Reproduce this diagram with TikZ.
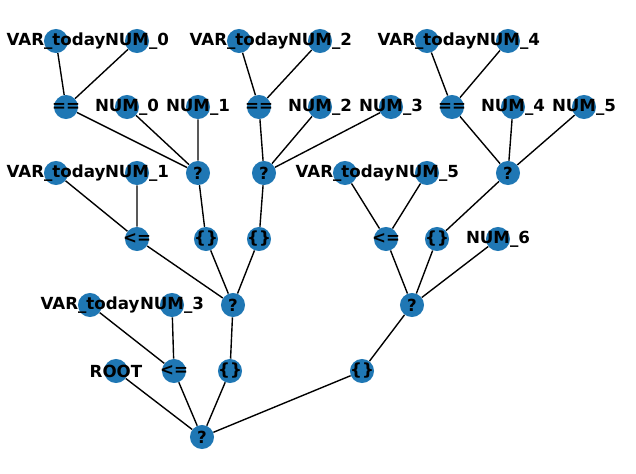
\documentclass[tikz,border=0pt]{standalone}
\usepackage{fontspec}
\setmainfont{DejaVu Sans}
\usetikzlibrary{backgrounds}
\definecolor{nodeblue}{HTML}{1F77B4}
\tikzset{
  vertex/.style={circle,fill=nodeblue,minimum size=17.3pt,inner sep=0pt},
  lbl/.style={font=\fontsize{12pt}{14pt}\selectfont\bfseries,inner sep=0pt,text=black},
  link/.style={line width=1pt,black}
}
\newcommand{\vtx}[3]{\node[vertex,label={[lbl]center:#3}] (#1) at (#2) {};}
\begin{document}
\begin{tikzpicture}[x=0.72pt,y=-0.72pt]
            \useasboundingbox (0,0) rectangle (636,473);
            % top row
            \vtx{ta}{56,41}{VAR\_today}
            \vtx{na0}{137,41}{NUM\_0}
            \vtx{tb}{239,41}{VAR\_today}
            \vtx{nb2}{320,41}{NUM\_2}
            \vtx{tc}{427,41}{VAR\_today}
            \vtx{nc4}{508,41}{NUM\_4}

            \vtx{eqa}{66,107}{==}
            \vtx{ka0}{127,107}{NUM\_0}
            \vtx{ka1}{198,107}{NUM\_1}
            \vtx{eqb}{259,107}{==}
            \vtx{kb2}{320,107}{NUM\_2}
            \vtx{kb3}{391,107}{NUM\_3}
            \vtx{eqc}{452,107}{==}
            \vtx{kc4}{513,107}{NUM\_4}
            \vtx{kc5}{584,107}{NUM\_5}

            \vtx{td}{56,173}{VAR\_today}
            \vtx{nd1}{137,173}{NUM\_1}
            \vtx{qa}{198,173}{?}
            \vtx{qb}{264,173}{?}
            \vtx{te}{345,173}{VAR\_today}
            \vtx{ne5}{427,173}{NUM\_5}
            \vtx{qc}{508,173}{?}

            \vtx{led}{137,239}{<=}
            \vtx{ba}{206,239}{\{\}}
            \vtx{bb}{259,239}{\{\}}
            \vtx{lee}{386,239}{<=}
            \vtx{bc}{437,239}{\{\}}
            \vtx{n6}{498,239}{NUM\_6}

            \vtx{tf}{90,305}{VAR\_today}
            \vtx{nf3}{172,305}{NUM\_3}
            \vtx{qd}{233,305}{?}
            \vtx{qe}{412,305}{?}

            % bottom
            \vtx{root}{116,371}{ROOT}
            \vtx{lef}{174,371}{<=}
            \vtx{bd}{230,371}{\{\}}
            \vtx{be}{362,371}{\{\}}
            \vtx{q}{202,437}{?}

            \begin{scope}[on background layer]
              \draw[link] (ta) -- (eqa) -- (na0);
              \draw[link] (eqa) -- (qa);
              \draw[link] (ka0) -- (qa) -- (ka1);
              \draw[link] (tb) -- (eqb) -- (nb2);
              \draw[link] (eqb) -- (qb);
              \draw[link] (kb2) -- (qb) -- (kb3);
              \draw[link] (tc) -- (eqc) -- (nc4);
              \draw[link] (eqc) -- (qc);
              \draw[link] (kc4) -- (qc) -- (kc5);
              \draw[link] (td) -- (led) -- (nd1);
              \draw[link] (qa) -- (ba);
              \draw[link] (qb) -- (bb);
              \draw[link] (led) -- (qd);
              \draw[link] (ba) -- (qd) -- (bb);
              \draw[link] (te) -- (lee) -- (ne5);
              \draw[link] (qc) -- (bc);
              \draw[link] (lee) -- (qe) -- (bc);
              \draw[link] (n6) -- (qe);
              \draw[link] (tf) -- (lef) -- (nf3);
              \draw[link] (qd) -- (bd);
              \draw[link] (qe) -- (be);
              \draw[link] (root) -- (q) -- (lef);
              \draw[link] (bd) -- (q) -- (be);
            \end{scope}
          \end{tikzpicture}
\end{document}
